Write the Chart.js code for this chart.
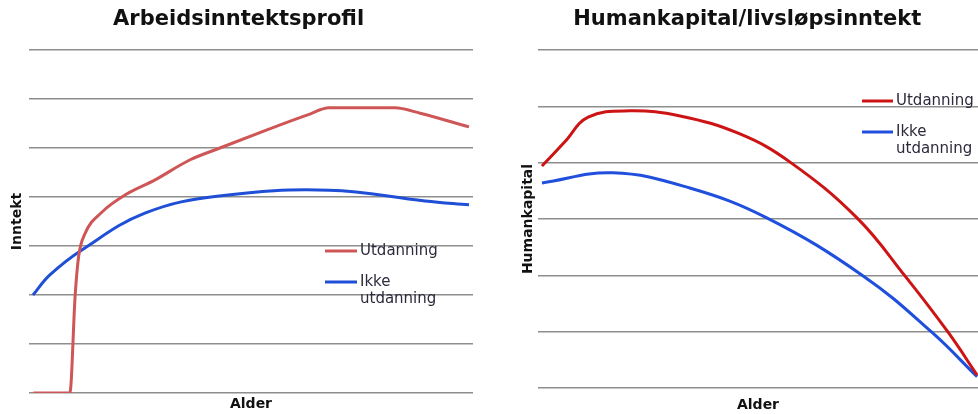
<!DOCTYPE html>
<html lang="no">
<head>
<meta charset="utf-8">
<title>Arbeidsinntektsprofil og humankapital</title>
<script src="https://cdn.jsdelivr.net/npm/chart.js@4.4.1/dist/chart.umd.min.js"></script>
<style>
  html, body { margin: 0; padding: 0; background: #ffffff; }
  body { width: 978px; height: 414px; position: relative; overflow: hidden; }
  canvas { position: absolute; top: 0; }
  #incomeChart { left: 0; }
  #capitalChart { left: 516px; }
</style>
</head>
<body>
<canvas id="incomeChart" width="480" height="414"></canvas>
<canvas id="capitalChart" width="462" height="414"></canvas>
<script>
// Alder is shown on a unitless 0–100 scale (no tick labels in the figure).

// Arbeidsinntektsprofil – med utdanning
const incomeEduAge    = [1, 9.2, 10.4, 11.2, 12.6, 16.4, 21.6, 28.4, 36.3, 43.0, 53.6, 62.6, 67.6, 82.4, 88.1, 99.1];
const incomeEduValue  = [0, 0, 2.0, 2.8, 3.25, 3.69, 4.04, 4.35, 4.76, 5.0, 5.37, 5.67, 5.82, 5.82, 5.71, 5.43];

// Arbeidsinntektsprofil – uten utdanning
const incomeNoEduAge   = [0.9, 4.7, 11.9, 26.1, 42.8, 67.6, 89.2, 99.1];
const incomeNoEduValue = [2.0, 2.41, 2.92, 3.67, 4.02, 4.14, 3.92, 3.84];

// Humankapital – med utdanning
const capitalEduAge    = [0.9, 6.1, 11.4, 20.9, 32.3, 45.9, 57.3, 72.5, 83.4, 93.2, 99.8];
const capitalEduValue  = [3.94, 4.37, 4.81, 4.92, 4.83, 4.51, 4.01, 3.02, 1.99, 0.99, 0.23];

// Humankapital – uten utdanning
const capitalNoEduAge   = [0.9, 17.0, 34.5, 52.0, 73.9, 89.5, 99.8];
const capitalNoEduValue = [3.64, 3.82, 3.55, 3.02, 1.99, 0.99, 0.20];

const seriesLabels = ['Utdanning', 'Ikke\nutdanning'];

const FONT = '"DejaVu Sans", Verdana, sans-serif';

function toPoints(xs, ys) {
  return xs.map((x, i) => ({ x: x, y: ys[i] }));
}

// Draws the line legend inside the plot, with multi-line labels.
const inlineLegend = {
  id: 'inlineLegend',
  afterDatasetsDraw(chart, args, opts) {
    const ctx = chart.ctx;
    ctx.save();
    ctx.font = '15px ' + FONT;
    ctx.textBaseline = 'middle';
    ctx.textAlign = 'left';
    chart.data.datasets.forEach((ds, i) => {
      const y = opts.y + i * opts.rowGap;
      ctx.strokeStyle = ds.borderColor;
      ctx.lineWidth = 3;
      ctx.beginPath();
      ctx.moveTo(opts.x, y);
      ctx.lineTo(opts.x + opts.lineLen, y);
      ctx.stroke();
      ctx.fillStyle = '#2e2a3c';
      ds.label.split('\n').forEach((line, j) => {
        ctx.fillText(line, opts.x + opts.lineLen + 3, y + j * 17);
      });
    });
    ctx.restore();
  }
};

function makeOptions(cfg) {
  return {
    responsive: false,
    animation: false,
    layout: { padding: cfg.padding },
    elements: { point: { radius: 0, hoverRadius: 0 }, line: { tension: 0.4 } },
    plugins: {
      legend: { display: false },
      tooltip: { enabled: false },
      title: {
        display: true,
        text: cfg.title,
        color: '#111111',
        font: { family: FONT, size: 21, weight: 'bold' },
        padding: { top: 7.4, bottom: 17.4 }
      },
      inlineLegend: cfg.legend
    },
    scales: {
      x: {
        type: 'linear',
        min: 0,
        max: 100,
        grid: { display: false, drawTicks: false },
        border: { display: false },
        ticks: { display: false },
        title: {
          display: true,
          text: 'Alder',
          color: '#111111',
          font: { family: FONT, size: 14, weight: 'bold' },
          padding: cfg.xTitlePad
        }
      },
      y: {
        min: 0,
        max: cfg.yMax,
        grid: { color: '#8e8e8e', lineWidth: 1.6, drawTicks: false },
        border: { display: false },
        ticks: { display: false, stepSize: 1 },
        title: {
          display: true,
          text: cfg.yTitle,
          color: '#111111',
          font: { family: FONT, size: 14, weight: 'bold' },
          padding: cfg.yTitlePad
        }
      }
    }
  };
}

new Chart(document.getElementById('incomeChart'), {
  type: 'line',
  data: {
    datasets: [
      {
        label: seriesLabels[0],
        data: toPoints(incomeEduAge, incomeEduValue),
        borderColor: '#cf5656',
        borderWidth: 3,
        cubicInterpolationMode: 'monotone',
        fill: false
      },
      {
        label: seriesLabels[1],
        data: toPoints(incomeNoEduAge, incomeNoEduValue),
        borderColor: '#1f4fd6',
        borderWidth: 3,
        fill: false
      }
    ]
  },
  options: makeOptions({
    title: 'Arbeidsinntektsprofil',
    yTitle: 'Inntekt',
    yMax: 7,
    padding: { left: 4.2, right: 7, top: 0, bottom: 0.8 },
    xTitlePad: { top: 3.4, bottom: 0 },
    yTitlePad: { top: 5, bottom: 3 },
    legend: { x: 325, y: 251, rowGap: 31, lineLen: 32 }
  }),
  plugins: [inlineLegend]
});

new Chart(document.getElementById('capitalChart'), {
  type: 'line',
  data: {
    datasets: [
      {
        label: seriesLabels[0],
        data: toPoints(capitalEduAge, capitalEduValue),
        borderColor: '#cc1414',
        borderWidth: 3,
        fill: false
      },
      {
        label: seriesLabels[1],
        data: toPoints(capitalNoEduAge, capitalNoEduValue),
        borderColor: '#1f4fdc',
        borderWidth: 3,
        fill: false
      }
    ]
  },
  options: makeOptions({
    title: 'Humankapital/livsløpsinntekt',
    yTitle: 'Humankapital',
    yMax: 6,
    padding: { left: 0.6, right: 0, top: 0, bottom: 0.6 },
    xTitlePad: { top: 8.6, bottom: 0 },
    yTitlePad: { top: 3, bottom: 1.6 },
    legend: { x: 346, y: 101, rowGap: 31, lineLen: 31 }
  }),
  plugins: [inlineLegend]
});
</script>
</body>
</html>
